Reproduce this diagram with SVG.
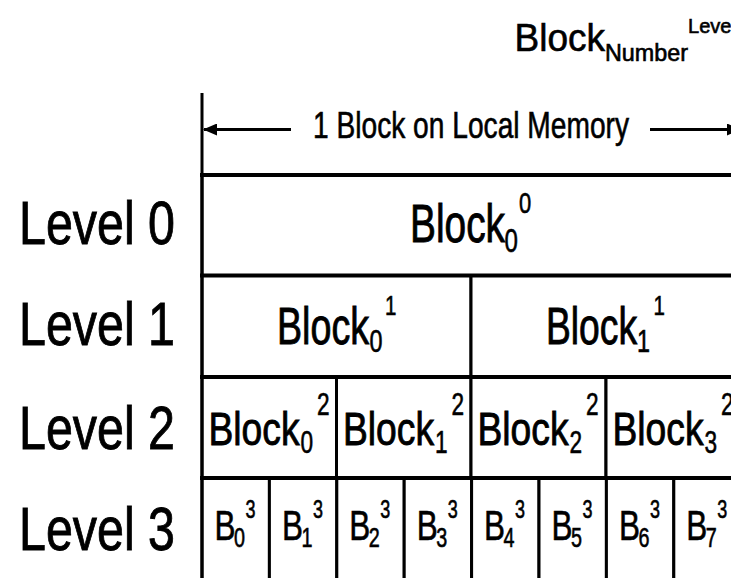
<svg xmlns="http://www.w3.org/2000/svg" width="731" height="578" viewBox="0 0 731 578">
<style>
.t{font-family:"Liberation Sans",Arial,sans-serif;fill:#000;stroke:#000;stroke-width:0.6}
.big{stroke-width:0.9}
.cell{fill:#fff;stroke:#000;stroke-width:3}
.hl{stroke:#000;stroke-width:4}
.vl{stroke:#000;stroke-width:3}
.ar{stroke:#000;stroke-width:3;fill:none}
</style>
<defs>
<marker id="ah" viewBox="0 0 14 12" refX="13" refY="6" markerWidth="14" markerHeight="12" markerUnits="userSpaceOnUse" orient="auto-start-reverse">
<path d="M0,0 L14,6 L0,12 Z" fill="#000"/>
</marker>
</defs>
<rect width="731" height="578" fill="#fff"/>

<g id="legend">
<text class="t" x="514.6" y="50.7" font-size="38" textLength="90.5" lengthAdjust="spacingAndGlyphs">Block</text>
<text class="t" x="605" y="61" font-size="23" textLength="83" lengthAdjust="spacingAndGlyphs">Number</text>
<text class="t" x="688" y="33" font-size="21" textLength="48" lengthAdjust="spacingAndGlyphs">Level</text>
</g>

<g id="memory-label">
<text class="t" x="313" y="138" font-size="37" textLength="316" lengthAdjust="spacingAndGlyphs">1 Block on Local Memory</text>
</g>

<g id="level-labels">
<text class="t big" x="19" y="244" font-size="61" textLength="156" lengthAdjust="spacingAndGlyphs">Level 0</text>
<text class="t big" x="19" y="345" font-size="61" textLength="156" lengthAdjust="spacingAndGlyphs">Level 1</text>
<text class="t big" x="19" y="449" font-size="61" textLength="156" lengthAdjust="spacingAndGlyphs">Level 2</text>
<text class="t big" x="19" y="550" font-size="61" textLength="156" lengthAdjust="spacingAndGlyphs">Level 3</text>
</g>

<g id="block-0-0">
<rect class="cell" x="202" y="175" width="538" height="100.5"/>
<text class="t big" x="410" y="242" font-size="54" textLength="95" lengthAdjust="spacingAndGlyphs">Block</text>
<text class="t" x="504.5" y="252" font-size="33" textLength="13.4" lengthAdjust="spacingAndGlyphs">0</text>
<text class="t" x="519" y="213" font-size="30" textLength="12.2" lengthAdjust="spacingAndGlyphs">0</text>
</g>

<g id="block-0-1">
<rect class="cell" x="202" y="275.5" width="269" height="101.5"/>
<text class="t big" x="277" y="343.5" font-size="52" textLength="92" lengthAdjust="spacingAndGlyphs">Block</text>
<text class="t" x="369.5" y="351.5" font-size="32" textLength="13" lengthAdjust="spacingAndGlyphs">0</text>
<text class="t" x="385" y="315" font-size="28" textLength="11.4" lengthAdjust="spacingAndGlyphs">1</text>
</g>
<g id="block-1-1">
<rect class="cell" x="471" y="275.5" width="269" height="101.5"/>
<text class="t big" x="546" y="343.5" font-size="52" textLength="91" lengthAdjust="spacingAndGlyphs">Block</text>
<text class="t" x="637" y="351.5" font-size="32" textLength="13" lengthAdjust="spacingAndGlyphs">1</text>
<text class="t" x="653.5" y="315" font-size="28" textLength="11.4" lengthAdjust="spacingAndGlyphs">1</text>
</g>

<g id="block-0-2">
<rect class="cell" x="202" y="377" width="134.5" height="101"/>
<text class="t big" x="208.5" y="445" font-size="47" textLength="91" lengthAdjust="spacingAndGlyphs">Block</text>
<text class="t" x="300.5" y="453" font-size="31" textLength="12.6" lengthAdjust="spacingAndGlyphs">0</text>
<text class="t" x="317" y="415" font-size="31" textLength="12.6" lengthAdjust="spacingAndGlyphs">2</text>
</g>
<g id="block-1-2">
<rect class="cell" x="336.5" y="377" width="134.5" height="101"/>
<text class="t big" x="343" y="445" font-size="47" textLength="91" lengthAdjust="spacingAndGlyphs">Block</text>
<text class="t" x="435" y="453" font-size="31" textLength="12.6" lengthAdjust="spacingAndGlyphs">1</text>
<text class="t" x="451.5" y="415" font-size="31" textLength="12.6" lengthAdjust="spacingAndGlyphs">2</text>
</g>
<g id="block-2-2">
<rect class="cell" x="471" y="377" width="135" height="101"/>
<text class="t big" x="477.5" y="445" font-size="47" textLength="91" lengthAdjust="spacingAndGlyphs">Block</text>
<text class="t" x="569.5" y="453" font-size="31" textLength="12.6" lengthAdjust="spacingAndGlyphs">2</text>
<text class="t" x="586" y="415" font-size="31" textLength="12.6" lengthAdjust="spacingAndGlyphs">2</text>
</g>
<g id="block-3-2">
<rect class="cell" x="606" y="377" width="134.5" height="101"/>
<text class="t big" x="612.5" y="445" font-size="47" textLength="91" lengthAdjust="spacingAndGlyphs">Block</text>
<text class="t" x="704.5" y="453" font-size="31" textLength="12.6" lengthAdjust="spacingAndGlyphs">3</text>
<text class="t" x="721" y="415" font-size="31" textLength="12.6" lengthAdjust="spacingAndGlyphs">2</text>
</g>

<g id="b0-3"><rect class="cell" x="202" y="478" width="67.4" height="110"/>
<text class="t" x="214.5" y="540" font-size="43" textLength="21" lengthAdjust="spacingAndGlyphs">B</text>
<text class="t" x="234" y="547" font-size="27" textLength="11" lengthAdjust="spacingAndGlyphs">0</text>
<text class="t" x="245.5" y="518" font-size="25" textLength="10" lengthAdjust="spacingAndGlyphs">3</text></g>
<g id="b1-3"><rect class="cell" x="269.4" y="478" width="67.4" height="110"/>
<text class="t" x="281.9" y="540" font-size="43" textLength="21" lengthAdjust="spacingAndGlyphs">B</text>
<text class="t" x="301.4" y="547" font-size="27" textLength="11" lengthAdjust="spacingAndGlyphs">1</text>
<text class="t" x="312.9" y="518" font-size="25" textLength="10" lengthAdjust="spacingAndGlyphs">3</text></g>
<g id="b2-3"><rect class="cell" x="336.8" y="478" width="67.4" height="110"/>
<text class="t" x="349.3" y="540" font-size="43" textLength="21" lengthAdjust="spacingAndGlyphs">B</text>
<text class="t" x="368.8" y="547" font-size="27" textLength="11" lengthAdjust="spacingAndGlyphs">2</text>
<text class="t" x="380.3" y="518" font-size="25" textLength="10" lengthAdjust="spacingAndGlyphs">3</text></g>
<g id="b3-3"><rect class="cell" x="404.2" y="478" width="67.4" height="110"/>
<text class="t" x="416.7" y="540" font-size="43" textLength="21" lengthAdjust="spacingAndGlyphs">B</text>
<text class="t" x="436.2" y="547" font-size="27" textLength="11" lengthAdjust="spacingAndGlyphs">3</text>
<text class="t" x="447.7" y="518" font-size="25" textLength="10" lengthAdjust="spacingAndGlyphs">3</text></g>
<g id="b4-3"><rect class="cell" x="471.6" y="478" width="67.4" height="110"/>
<text class="t" x="484.1" y="540" font-size="43" textLength="21" lengthAdjust="spacingAndGlyphs">B</text>
<text class="t" x="503.6" y="547" font-size="27" textLength="11" lengthAdjust="spacingAndGlyphs">4</text>
<text class="t" x="515.1" y="518" font-size="25" textLength="10" lengthAdjust="spacingAndGlyphs">3</text></g>
<g id="b5-3"><rect class="cell" x="539" y="478" width="67.4" height="110"/>
<text class="t" x="551.5" y="540" font-size="43" textLength="21" lengthAdjust="spacingAndGlyphs">B</text>
<text class="t" x="571" y="547" font-size="27" textLength="11" lengthAdjust="spacingAndGlyphs">5</text>
<text class="t" x="582.5" y="518" font-size="25" textLength="10" lengthAdjust="spacingAndGlyphs">3</text></g>
<g id="b6-3"><rect class="cell" x="606.4" y="478" width="67.4" height="110"/>
<text class="t" x="618.9" y="540" font-size="43" textLength="21" lengthAdjust="spacingAndGlyphs">B</text>
<text class="t" x="638.4" y="547" font-size="27" textLength="11" lengthAdjust="spacingAndGlyphs">6</text>
<text class="t" x="649.9" y="518" font-size="25" textLength="10" lengthAdjust="spacingAndGlyphs">3</text></g>
<g id="b7-3"><rect class="cell" x="673.8" y="478" width="67.4" height="110"/>
<text class="t" x="686.3" y="540" font-size="43" textLength="21" lengthAdjust="spacingAndGlyphs">B</text>
<text class="t" x="705.8" y="547" font-size="27" textLength="11" lengthAdjust="spacingAndGlyphs">7</text>
<text class="t" x="717.3" y="518" font-size="25" textLength="10" lengthAdjust="spacingAndGlyphs">3</text></g>

<g id="connectors">
<line class="vl" x1="202" y1="93" x2="202" y2="590"/>
<line class="hl" x1="200" y1="175" x2="745" y2="175"/>
<line class="hl" x1="200" y1="275.5" x2="745" y2="275.5"/>
<line class="hl" x1="200" y1="377" x2="745" y2="377"/>
<line class="hl" x1="200" y1="478" x2="745" y2="478"/>
<line class="ar" x1="291" y1="129.5" x2="204" y2="129.5" marker-end="url(#ah)"/>
<line class="ar" x1="650" y1="129.5" x2="740" y2="129.5" marker-end="url(#ah)"/>
</g>
</svg>
